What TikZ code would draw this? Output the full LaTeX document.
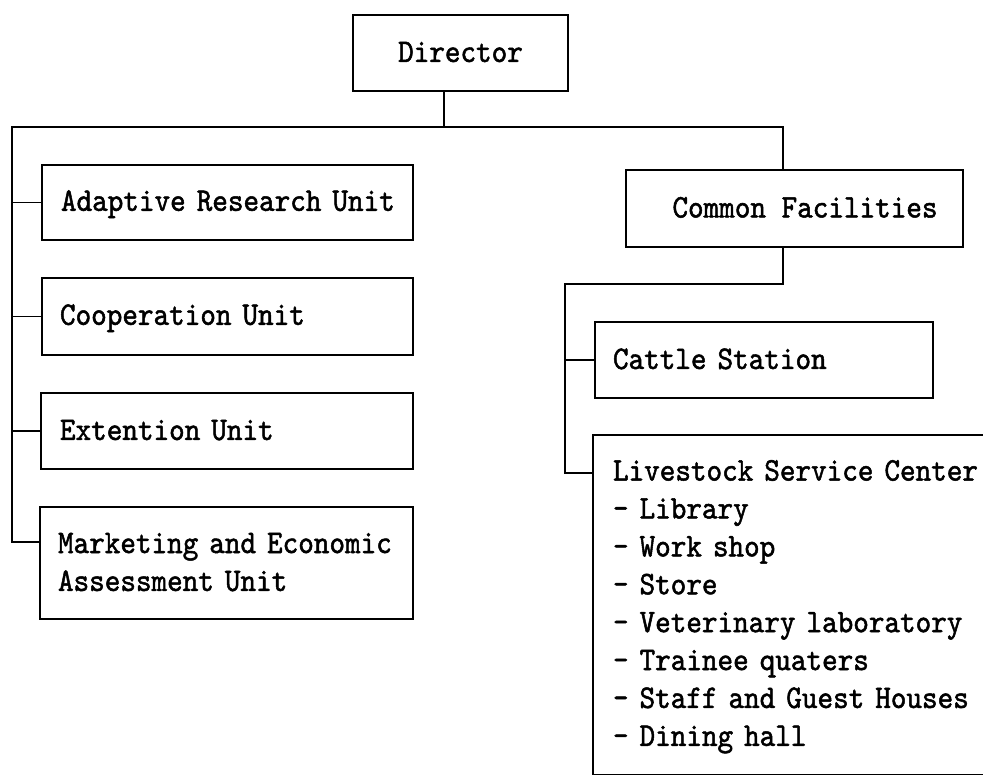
\documentclass[tikz,border=0pt]{standalone}
\usepackage{fontspec}
% typewriter face, slightly condensed and thickened
\newfontfamily\orgfont{lmmono10-regular.otf}[FakeStretch=0.90,FakeBold=1.5]
\newcommand\orgstrut{\rule[-6pt]{0pt}{30pt}}
\tikzset{
  unit/.style={draw, rectangle, line width=1.8pt, inner ysep=0pt,
    font=\orgfont\fontsize{33}{37.9}\selectfont, align=left,
    execute at begin node=\orgstrut, execute at end node=\orgstrut},
  wire/.style={line width=1.8pt, line join=miter}
}
\begin{document}
\begin{tikzpicture}[x=1pt,y=-1pt]
\useasboundingbox (0,0) rectangle (983,775);
\fill[white] (0,0) rectangle (983,775);
\clip (0,0) rectangle (983,775);

% top of the chart
\node[unit, align=center, inner xsep=0pt, minimum width=215pt, minimum height=76pt]
  (director) at (460.5,53) {Director};

% units on the left branch
\node[unit, text width=333pt, inner xsep=19pt, minimum height=75pt]
  (aru) at (227.5,202.5) {\mbox{Adaptive Research Unit}};
\node[unit, text width=335pt, inner xsep=18pt, minimum height=77pt]
  (coop) at (227.5,316.5) {\mbox{Cooperation Unit}};
\node[unit, text width=334pt, inner xsep=19pt, minimum height=76pt]
  (ext) at (227,431) {\mbox{Extention Unit}};
\node[unit, text width=337pt, inner xsep=18pt, minimum height=112pt]
  (mkt) at (226.5,563) {\mbox{Marketing and Economic}\\Assessment Unit};

% facilities on the right branch
\node[unit, align=center, inner xsep=0pt, minimum width=337pt, minimum height=77pt]
  (cf) at (794.5,208.5) {\hspace*{21pt}Common Facilities};
\node[unit, text width=302pt, inner xsep=18pt, minimum height=76pt]
  (cattle) at (764,360) {\mbox{Cattle Station}};
\node[unit, text width=367pt, inner xsep=20pt, minimum height=340pt]
  (lsc) at (796.5,605) {\mbox{Livestock Service Center}\\
  - Library\\
  - Work shop\\
  - Store\\
  - Veterinary laboratory\\
  - Trainee quaters\\
  \mbox{- Staff and Guest Houses}\\
  - Dining hall};

% bus and trunk points
\coordinate (hub)   at (444,127);
\coordinate (ltop)  at (12,127);
\coordinate (lbot)  at (12,542);
\coordinate (cftop) at (783,127);
\coordinate (rtop)  at (783,284);
\coordinate (rleft) at (565,284);
\coordinate (rbot)  at (565,473);

\draw[wire] (director.south -| hub) -- (hub);
\draw[wire] (cftop |- cf.north) -- (cftop) -- (ltop) -- (lbot) -- (mkt.west |- lbot);
\draw[wire] (aru.west -| ltop) -- (aru.west);
\draw[wire] (coop.west -| ltop) -- (coop.west);
\draw[wire] (ext.west -| ltop) -- (ext.west);

\draw[wire] (cf.south -| rtop) -- (rtop) -- (rleft) -- (rbot) -- (lsc.west |- rbot);
\draw[wire] (cattle.west -| rleft) -- (cattle.west);
\end{tikzpicture}
\end{document}
